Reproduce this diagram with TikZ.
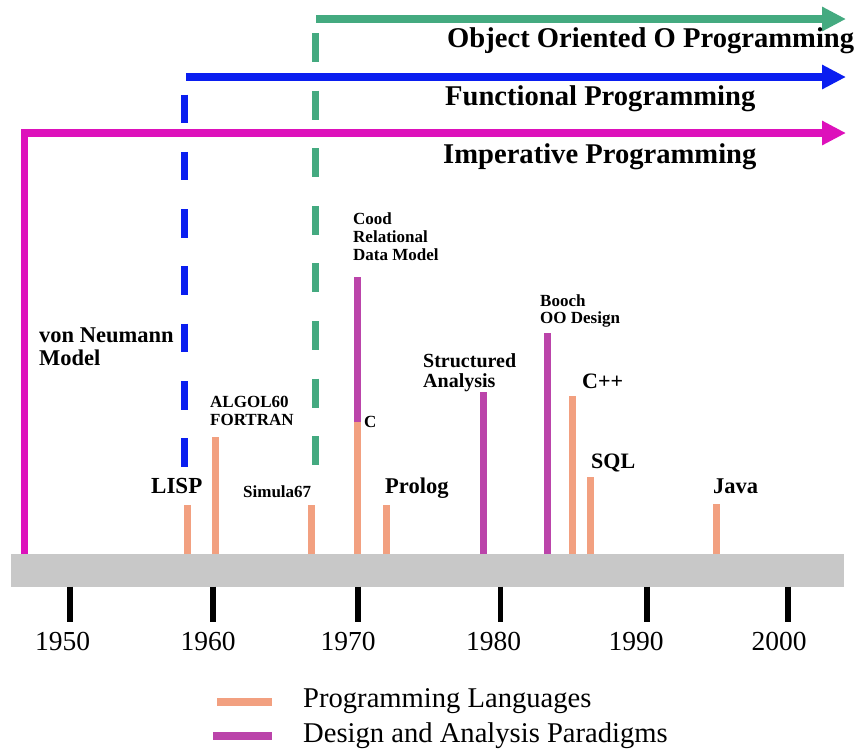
\documentclass[tikz,border=0pt]{standalone}
\usepackage{fontspec}
\setmainfont{Liberation Serif}
\usetikzlibrary{arrows.meta}
\definecolor{langc}{RGB}{242,160,128}
\definecolor{desc}{RGB}{187,68,170}
\definecolor{impc}{RGB}{221,17,187}
\definecolor{func}{RGB}{10,30,240}
\definecolor{ooc}{RGB}{68,170,128}
\definecolor{axisc}{RGB}{200,200,200}
\tikzset{
  lbl/.style={inner sep=0pt, anchor=base west, font=\bfseries, align=left},
  big/.style={lbl, font=\fontsize{28.6}{28.6}\selectfont\bfseries},
  mid/.style={lbl, font=\fontsize{22.5}{22.3}\selectfont\bfseries},
  small/.style={lbl, font=\fontsize{17}{17.6}\selectfont\bfseries},
  year/.style={inner sep=0pt, anchor=base, font=\fontsize{27.5}{27.5}\selectfont},
  legtxt/.style={inner sep=0pt, anchor=base west, font=\fontsize{28.6}{28.6}\selectfont},
  langbar/.style={draw=langc, line width=7pt},
  desbar/.style={draw=desc, line width=7pt},
  tick/.style={draw=black, line width=5.5pt},
  paradigm/.style={line width=7.5pt, -{Triangle[length=24pt,width=23pt]}},
}
\begin{document}
\begin{tikzpicture}[x=1pt,y=-1pt]
\useasboundingbox (0,0) rectangle (858,748);
% axis
\fill[axisc] (11,554) rectangle (844,586.5);
% ticks and years
\foreach \tx/\lx/\yr in {70/62.5/1950, 213/208/1960, 358/348/1970, 500.5/493.5/1980, 647/636/1990, 788/779/2000}{
  \draw[tick] (\tx,586.5) -- (\tx,622);
  \node[year] (y\yr) at (\lx,650) {\yr};
}
% paradigm arrows
\coordinate (impS) at (24.5,554);
\coordinate (impC) at (24.5,133);
\coordinate (impE) at (846,133);
\draw[paradigm, impc, line join=miter] (impS) -- (impC) -- (impE);
\coordinate (funS) at (186,77);
\coordinate (funE) at (846,77);
\draw[paradigm, func] (funS) -- (funE);
\coordinate (ooS) at (316,19);
\coordinate (ooE) at (846,19);
\draw[paradigm, ooc] (ooS) -- (ooE);
\coordinate (funD1) at (184.5,94.5);
\coordinate (funD2) at (184.5,468);
\draw[func, line width=7pt, dash pattern=on 28.6pt off 28.7pt] (funD1) -- (funD2);
\coordinate (ooD1) at (315,33);
\coordinate (ooD2) at (315,465);
\draw[ooc, line width=7pt, dash pattern=on 29pt off 28.6pt] (ooD1) -- (ooD2);
% paradigm labels
\node[big] (ooL) at (447,47) {Object Oriented O Programming};
\node[big] (funL) at (445,105) {Functional Programming};
\node[big] (impL) at (443,163) {Imperative Programming};
% bars
\draw[langbar] (187,554) -- (187,505);
\draw[langbar] (215.5,554) -- (215.5,437);
\draw[langbar] (311.5,554) -- (311.5,505);
\draw[langbar] (357.5,554) -- (357.5,422);
\draw[desbar] (357.5,422) -- (357.5,277);
\draw[langbar] (386,554) -- (386,505);
\draw[desbar] (483.7,554) -- (483.7,392);
\draw[desbar] (547,554) -- (547,333);
\draw[langbar] (572.7,554) -- (572.7,396);
\draw[langbar] (590,554) -- (590,477);
\draw[langbar] (716.5,554) -- (716.5,504);
% labels (base = last line's baseline)
\node[mid] (vonN) at (39,365) {von Neumann\\Model};
\node[small] (algol) at (210,425) {ALGOL60\\FORTRAN};
\node[mid, font=\fontsize{23}{23}\selectfont\bfseries] (lisp) at (151,493) {LISP};
\node[small] (simula) at (243,497) {Simula67};
\node[small] (cood) at (353,260) {Cood\\Relational\\Data Model};
\node[small] (cl) at (364,427) {C};
\node[mid] (prolog) at (385,493) {Prolog};
\node[lbl, font=\fontsize{20}{19.6}\selectfont\bfseries] (struct) at (423,387) {Structured\\Analysis};
\node[small, font=\fontsize{17}{17}\selectfont\bfseries] (booch) at (540,323) {Booch\\OO Design};
\node[mid, font=\fontsize{22}{22}\selectfont\bfseries] (cpp) at (582,388) {C++};
\node[mid, font=\fontsize{22}{22}\selectfont\bfseries] (sql) at (591,468) {SQL};
\node[mid] (java) at (713,493) {Java};
% legend
\coordinate (lg1a) at (217,702);
\coordinate (lg1b) at (272,702);
\draw[langc, line width=8pt] (lg1a) -- (lg1b);
\coordinate (lg2a) at (213,736);
\coordinate (lg2b) at (272,736);
\draw[desc, line width=8pt] (lg2a) -- (lg2b);
\node[legtxt] (legL) at (303,707) {Programming Languages};
\node[legtxt] (legD) at (303,742) {Design and Analysis Paradigms};
\end{tikzpicture}
\end{document}
